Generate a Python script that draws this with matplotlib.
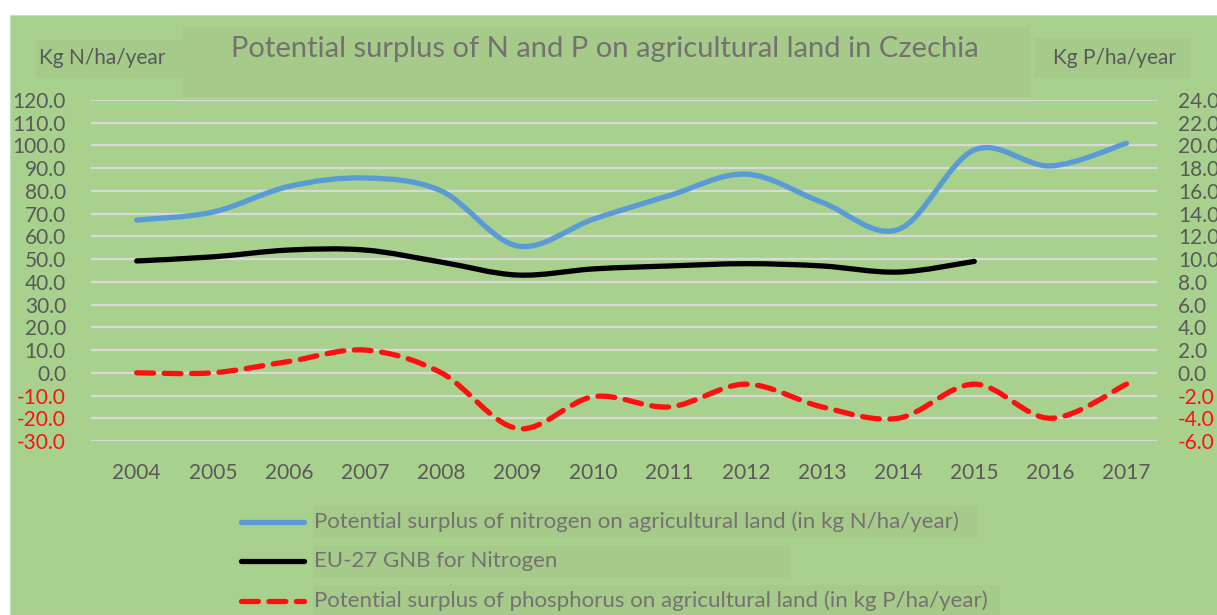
import numpy as np
import matplotlib.pyplot as plt
from matplotlib.path import Path
from matplotlib.patches import PathPatch, Rectangle
from matplotlib.lines import Line2D

# data
years = ['2004', '2005', '2006', '2007', '2008', '2009', '2010',
         '2011', '2012', '2013', '2014', '2015', '2016', '2017']
nitrogen = [67.2, 70.7, 82.0, 85.7, 80.0, 55.8, 67.6, 78.0, 87.4, 75.0, 63.0, 98.0, 91.0, 101.0]
eu27_gnb = [49.2, 51.0, 54.0, 54.0, 48.7, 43.0, 45.7, 47.0, 48.0, 47.0, 44.3, 49.0]
phosphorus = [0.0, 0.0, 1.0, 2.0, 0.0, -4.9, -2.1, -3.0, -1.0, -3.0, -4.0, -1.0, -4.0, -1.0]

left_ticks = np.arange(-30, 121, 10)
right_ticks = np.arange(-6, 25, 2)

GREEN = '#A9D18E'
BOX = '#A5CA8A'
GREY = '#595959'
TITLE_GREY = '#767171'
RED = '#FF1010'

plt.rcParams['font.family'] = ['Lato', 'DejaVu Sans']


def smooth_path(ys):
    # Excel-style smoothed line: Catmull-Rom segments drawn as cubic Bezier
    pts = np.column_stack([np.arange(len(ys)), ys]).astype(float)
    verts = [pts[0]]
    codes = [Path.MOVETO]
    for i in range(len(pts) - 1):
        p0 = pts[i - 1] if i > 0 else pts[i]
        p1 = pts[i]
        p2 = pts[i + 1]
        p3 = pts[i + 2] if i + 2 < len(pts) else pts[i + 1]
        verts += [p1 + (p2 - p0) / 6, p2 - (p3 - p1) / 6, p2]
        codes += [Path.CURVE4] * 3
    return Path(verts, codes)


W, H = 1217, 615
fig = plt.figure(figsize=(W / 100, H / 100), dpi=100, facecolor='white')
fig.patches.append(Rectangle((10 / W, 0), 1, 1 - 15 / H, transform=fig.transFigure,
                             facecolor=GREEN, edgecolor='#C8DDB8', lw=0.8, zorder=-10))

ax = fig.add_axes([91 / W, 1 - 441 / H, (1157 - 91) / W, (441 - 100) / H])
ax.set_facecolor('none')
ax2 = ax.twinx()

ax.set_xlim(-0.6, 13.4)
ax.set_ylim(-30, 120)
ax2.set_ylim(-6, 24)
ax.set_yticks(left_ticks)
ax.set_yticklabels(['%.1f' % v for v in left_ticks])
ax2.set_yticks(right_ticks)
ax2.set_yticklabels(['%.1f' % v for v in right_ticks])
ax.set_xticks(range(len(years)))
ax.set_xticklabels(years)

for a in (ax, ax2):
    for s in a.spines.values():
        s.set_visible(False)
    a.tick_params(length=0, labelsize=15, labelcolor=GREY)
ax.tick_params(axis='y', pad=18)
ax.tick_params(axis='x', pad=16)
ax2.tick_params(axis='y', pad=15)
for lab, v in zip(ax.get_yticklabels(), left_ticks):
    if v < 0:
        lab.set_color(RED)
for lab, v in zip(ax2.get_yticklabels(), right_ticks):
    if v < 0:
        lab.set_color(RED)

ax.grid(axis='y', color='#D9D9D9', lw=1.6)
ax.set_axisbelow(True)

ax.add_patch(PathPatch(smooth_path(nitrogen), facecolor='none', edgecolor='#5B9BD5',
                       lw=3.8, capstyle='round', zorder=3))
ax.add_patch(PathPatch(smooth_path(eu27_gnb), facecolor='none', edgecolor='black',
                       lw=3.8, capstyle='round', zorder=3))
ax2.add_patch(PathPatch(smooth_path(phosphorus), facecolor='none', edgecolor=RED,
                        lw=3.8, linestyle=(0, (3.2, 2.0)), capstyle='round', zorder=3))

# title and axis-unit labels with their light boxes
fig.patches.append(Rectangle((183 / W, 1 - 97 / H), (1030 - 183) / W, 70 / H,
                             transform=fig.transFigure, facecolor=BOX, edgecolor='none', zorder=-5))
fig.text(605 / W, 1 - 49 / H, 'Potential surplus of N and P on agricultural land in Czechia',
         ha='center', va='center', fontsize=21, color=TITLE_GREY, zorder=2)
fig.patches.append(Rectangle((36 / W, 1 - 78 / H), (183 - 36) / W, 38 / H,
                             transform=fig.transFigure, facecolor=BOX, edgecolor='none', zorder=-5))
fig.text(39 / W, 1 - 58 / H, 'Kg N/ha/year', ha='left', va='center', fontsize=15, color=GREY, zorder=2)
fig.patches.append(Rectangle((1035 / W, 1 - 78 / H), (1190 - 1035) / W, 40 / H,
                             transform=fig.transFigure, facecolor=BOX, edgecolor='none', zorder=-5))
fig.text(1053 / W, 1 - 58 / H, 'Kg P/ha/year', ha='left', va='center', fontsize=15, color=GREY, zorder=2)

# legend drawn as three rows
legend_rows = [
    ('Potential surplus of nitrogen on agricultural land (in kg N/ha/year)', '#5B9BD5', '-', 522, 977),
    ('EU-27 GNB for Nitrogen', 'black', '-', 561, 790),
    ('Potential surplus of phosphorus on agricultural land (in kg P/ha/year)', RED, (0, (3.2, 2.0)), 601, 1000),
]
for text, col, ls, yp, xr in legend_rows:
    fig.patches.append(Rectangle((313 / W, 1 - (yp + 16) / H), (xr - 313) / W, 32 / H,
                                 transform=fig.transFigure, facecolor=BOX, edgecolor='none', zorder=-5))
    fig.add_artist(Line2D([241 / W, 304 / W], [1 - yp / H, 1 - yp / H], color=col, lw=3.8,
                          linestyle=ls, solid_capstyle='round', dash_capstyle='round', zorder=2))
    fig.text(314 / W, 1 - yp / H, text, ha='left', va='center', fontsize=16, color=TITLE_GREY, zorder=2)

fig.savefig('out.png', dpi=100, facecolor='white')
